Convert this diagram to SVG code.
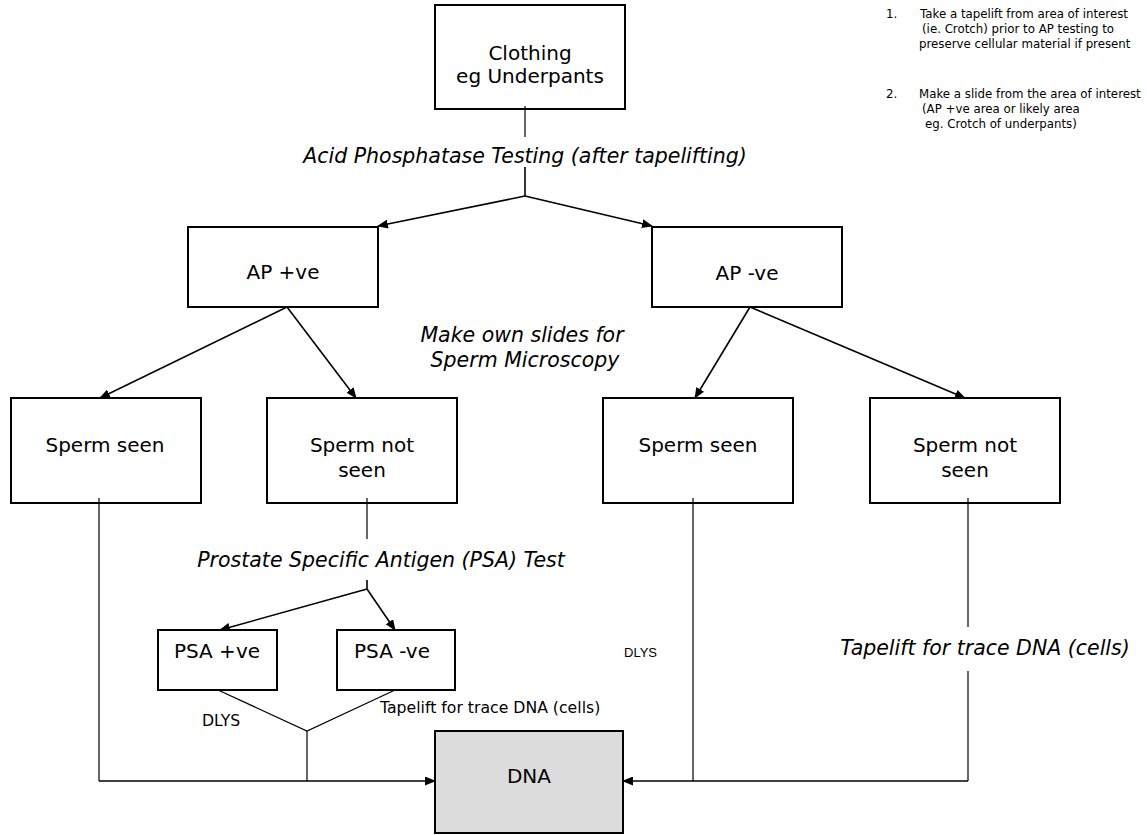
<svg xmlns="http://www.w3.org/2000/svg" width="1147" height="835" viewBox="0 0 1147 835">
<defs>
<marker id="arr" markerWidth="11" markerHeight="9" refX="10" refY="4.5" orient="auto" markerUnits="userSpaceOnUse">
<path d="M0,0 L11,4.5 L0,9 z" fill="#000"/>
</marker>
<style>
.box{fill:#fff;stroke:#000;stroke-width:2}
.dna{fill:#dcdcdc;stroke:#000;stroke-width:2}
.t{font-family:"DejaVu Sans",Verdana,sans-serif;font-size:20px;fill:#000;text-anchor:middle}
.it{font-family:"DejaVu Sans",Verdana,sans-serif;font-size:20.5px;font-style:italic;fill:#000;text-anchor:middle}
.sm{font-family:"DejaVu Sans",Verdana,sans-serif;font-size:15.7px;fill:#000}
.note{font-family:"DejaVu Sans",Verdana,sans-serif;font-size:11.8px;fill:#000}
.ar{font-family:"Liberation Sans",Arial,sans-serif;font-size:13px;fill:#000}
.c{fill:none;stroke:#000;stroke-width:1.6}
.cl{fill:none;stroke:#000;stroke-width:1.2}
</style>
</defs>
<rect width="1147" height="835" fill="#fff"/>

<g id="notes">
<text class="note" x="886" y="18">1.</text>
<text class="note" x="920" y="18">Take a tapelift from area of interest</text>
<text class="note" x="922" y="33">(ie. Crotch) prior to AP testing to</text>
<text class="note" x="919" y="48">preserve cellular material if present</text>
<text class="note" x="886" y="98">2.</text>
<text class="note" x="919" y="98">Make a slide from the area of interest</text>
<text class="note" x="922" y="113">(AP +ve area or likely area</text>
<text class="note" x="925" y="128">eg. Crotch of underpants)</text>
</g>

<g id="connectors">
<line class="cl" x1="525" y1="106" x2="525" y2="137"/>
<polyline class="c" points="525,167 525,196"/>
<polyline class="c" points="525,196 378,226" marker-end="url(#arr)"/>
<polyline class="c" points="525,196 652,226" marker-end="url(#arr)"/>
<line class="c" x1="287" y1="307" x2="100" y2="398" marker-end="url(#arr)"/>
<line class="c" x1="287" y1="307" x2="356" y2="398" marker-end="url(#arr)"/>
<line class="c" x1="750" y1="307" x2="695" y2="398" marker-end="url(#arr)"/>
<line class="c" x1="750" y1="307" x2="965" y2="398" marker-end="url(#arr)"/>
<line class="cl" x1="367" y1="498" x2="367" y2="539"/>
<polyline class="c" points="367,580 367,589"/>
<line class="c" x1="367" y1="589" x2="220" y2="630" marker-end="url(#arr)"/>
<line class="c" x1="367" y1="589" x2="395" y2="630" marker-end="url(#arr)"/>
<polyline class="cl" points="218,690 307,731 395,690"/>
<line class="cl" x1="307" y1="731" x2="307" y2="781"/>
<line class="cl" x1="99" y1="498" x2="99" y2="781"/>
<line class="c" x1="99" y1="781" x2="435" y2="781" marker-end="url(#arr)"/>
<line class="cl" x1="693" y1="498" x2="693" y2="781"/>
<line class="cl" x1="968" y1="498" x2="968" y2="627"/>
<line class="cl" x1="968" y1="671" x2="968" y2="781"/>
<line class="c" x1="968" y1="781" x2="623" y2="781" marker-end="url(#arr)"/>
<text class="it" x="525" y="163">Acid Phosphatase Testing (after tapelifting)</text>
<text class="it" x="522" y="342">Make own slides for</text>
<text class="it" x="525" y="367">Sperm Microscopy</text>
<text class="it" x="381" y="567">Prostate Specific Antigen (PSA) Test</text>
<text class="it" x="985" y="655">Tapelift for trace DNA (cells)</text>
<text class="ar" x="624" y="657">DLYS</text>
<text class="sm" x="202" y="726">DLYS</text>
<text class="sm" x="380" y="713">Tapelift for trace DNA (cells)</text>
</g>

<g id="clothing"><rect class="box" x="435" y="5" width="190" height="104"/>
<text class="t" x="530" y="60">Clothing</text><text class="t" x="530" y="83">eg Underpants</text></g>
<g id="ap-pos"><rect class="box" x="188" y="227" width="190" height="80"/>
<text class="t" x="283" y="279">AP +ve</text></g>
<g id="ap-neg"><rect class="box" x="652" y="227" width="190" height="80"/>
<text class="t" x="747" y="280">AP -ve</text></g>
<g id="sperm-seen-1"><rect class="box" x="11" y="398" width="190" height="105"/>
<text class="t" x="105" y="452">Sperm seen</text></g>
<g id="sperm-not-seen-1"><rect class="box" x="267" y="398" width="190" height="105"/>
<text class="t" x="362" y="452">Sperm not</text><text class="t" x="362" y="477">seen</text></g>
<g id="sperm-seen-2"><rect class="box" x="603" y="398" width="190" height="105"/>
<text class="t" x="698" y="452">Sperm seen</text></g>
<g id="sperm-not-seen-2"><rect class="box" x="870" y="398" width="190" height="105"/>
<text class="t" x="965" y="452">Sperm not</text><text class="t" x="965" y="477">seen</text></g>
<g id="psa-pos"><rect class="box" x="158" y="630" width="119" height="60"/>
<text class="t" x="217" y="658">PSA +ve</text></g>
<g id="psa-neg"><rect class="box" x="337" y="630" width="118" height="60"/>
<text class="t" x="392" y="658">PSA -ve</text></g>
<g id="dna"><rect class="dna" x="435" y="731" width="188" height="102"/>
<text class="t" x="529" y="783">DNA</text></g>

<g id="inner-stubs">
<line class="cl" x1="525" y1="106" x2="525" y2="109"/>
<line class="cl" x1="99" y1="498" x2="99" y2="503"/>
<line class="cl" x1="367" y1="498" x2="367" y2="503"/>
<line class="cl" x1="693" y1="498" x2="693" y2="503"/>
<line class="cl" x1="968" y1="498" x2="968" y2="503"/>
</g>
</svg>
